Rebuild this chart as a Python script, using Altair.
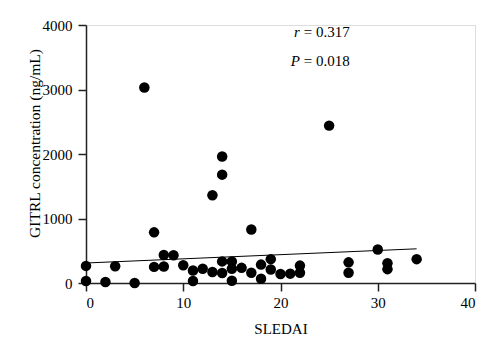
import altair as alt
import pandas as pd

sledai = [0, 0, 2, 3, 5, 6, 7, 7, 8, 8, 9, 10, 11, 11, 12, 13, 13, 14, 14, 14, 14,
          15, 15, 15, 16, 17, 17, 18, 18, 19, 19, 20, 21, 22, 22, 25, 27, 27, 30, 31, 31, 34]
gitrl = [265, 30, 15, 260, 0, 3030, 785, 250, 435, 255, 430, 275, 195, 30, 220, 1360, 170,
         1960, 1680, 335, 155, 335, 220, 35, 235, 830, 160, 285, 65, 370, 210, 140, 145,
         270, 160, 2440, 320, 160, 520, 305, 215, 370]

fit_x = [0, 34]
fit_y = [310, 530]

x_ticks = [0, 10, 20, 30, 40]
y_ticks = [0, 1000, 2000, 3000, 4000]

stat_var = ["r", "P"]
stat_rest = ["= 0.317", "= 0.018"]
stat_x = [22.4, 22.4]
stat_y = [3886, 3437]

FONT = "Liberation Serif"

pts = pd.DataFrame({"SLEDAI": sledai, "GITRL": gitrl})
fit = pd.DataFrame({"SLEDAI": fit_x, "GITRL": fit_y})
stats = pd.DataFrame({"var": stat_var, "rest": stat_rest, "x": stat_x, "y": stat_y})

xscale = alt.Scale(domain=[0, 40], nice=False)
yscale = alt.Scale(domain=[0, 4000], nice=False)

common = dict(grid=False, format="d", labelFont=FONT, labelFontSize=15, labelColor="black",
              titleFont=FONT, titleFontWeight="normal", titleColor="black",
              tickSize=8, tickColor="#222", domainColor="#222", domainWidth=1.5, tickWidth=1.5)

xaxis = alt.Axis(values=x_ticks, title="SLEDAI", titleFontSize=15,
                 titleBaseline="middle", titleY=45, labelPadding=4, **common)
yaxis = alt.Axis(values=y_ticks, title="GITRL concentration (ng/mL)", titleFontSize=15.5,
                 titleBaseline="middle", titleX=-52, titleY=118, titleAngle=270,
                 labelPadding=6, **common)

line = alt.Chart(fit).mark_line(color="black", strokeWidth=1).encode(
    x=alt.X("SLEDAI:Q", scale=xscale, axis=xaxis),
    y=alt.Y("GITRL:Q", scale=yscale, axis=yaxis),
)

points = alt.Chart(pts).mark_circle(size=110, color="black", opacity=1).encode(
    x=alt.X("SLEDAI:Q", scale=xscale, axis=xaxis),
    y=alt.Y("GITRL:Q", scale=yscale, axis=yaxis),
)

var_text = alt.Chart(stats).mark_text(font=FONT, fontSize=15, fontStyle="italic",
                                      align="right", baseline="middle", dx=-4, color="black").encode(
    x=alt.X("x:Q", scale=xscale, axis=xaxis), y=alt.Y("y:Q", scale=yscale, axis=yaxis), text="var:N")
rest_text = alt.Chart(stats).mark_text(font=FONT, fontSize=15,
                                       align="left", baseline="middle", color="black").encode(
    x=alt.X("x:Q", scale=xscale, axis=xaxis), y=alt.Y("y:Q", scale=yscale, axis=yaxis), text="rest:N")

chart = alt.layer(line, points, var_text, rest_text).properties(
    width=389, height=258,
    autosize=alt.AutoSizeParams(type="none"),
    padding={"left": 86, "top": 25, "right": 25, "bottom": 70},
    background="white",
).configure_view(stroke=None).configure(font=FONT).configure_axis(
    labelFont=FONT, titleFont=FONT,
)

chart.save("out.html", embed_options={"renderer": "svg", "actions": False})
